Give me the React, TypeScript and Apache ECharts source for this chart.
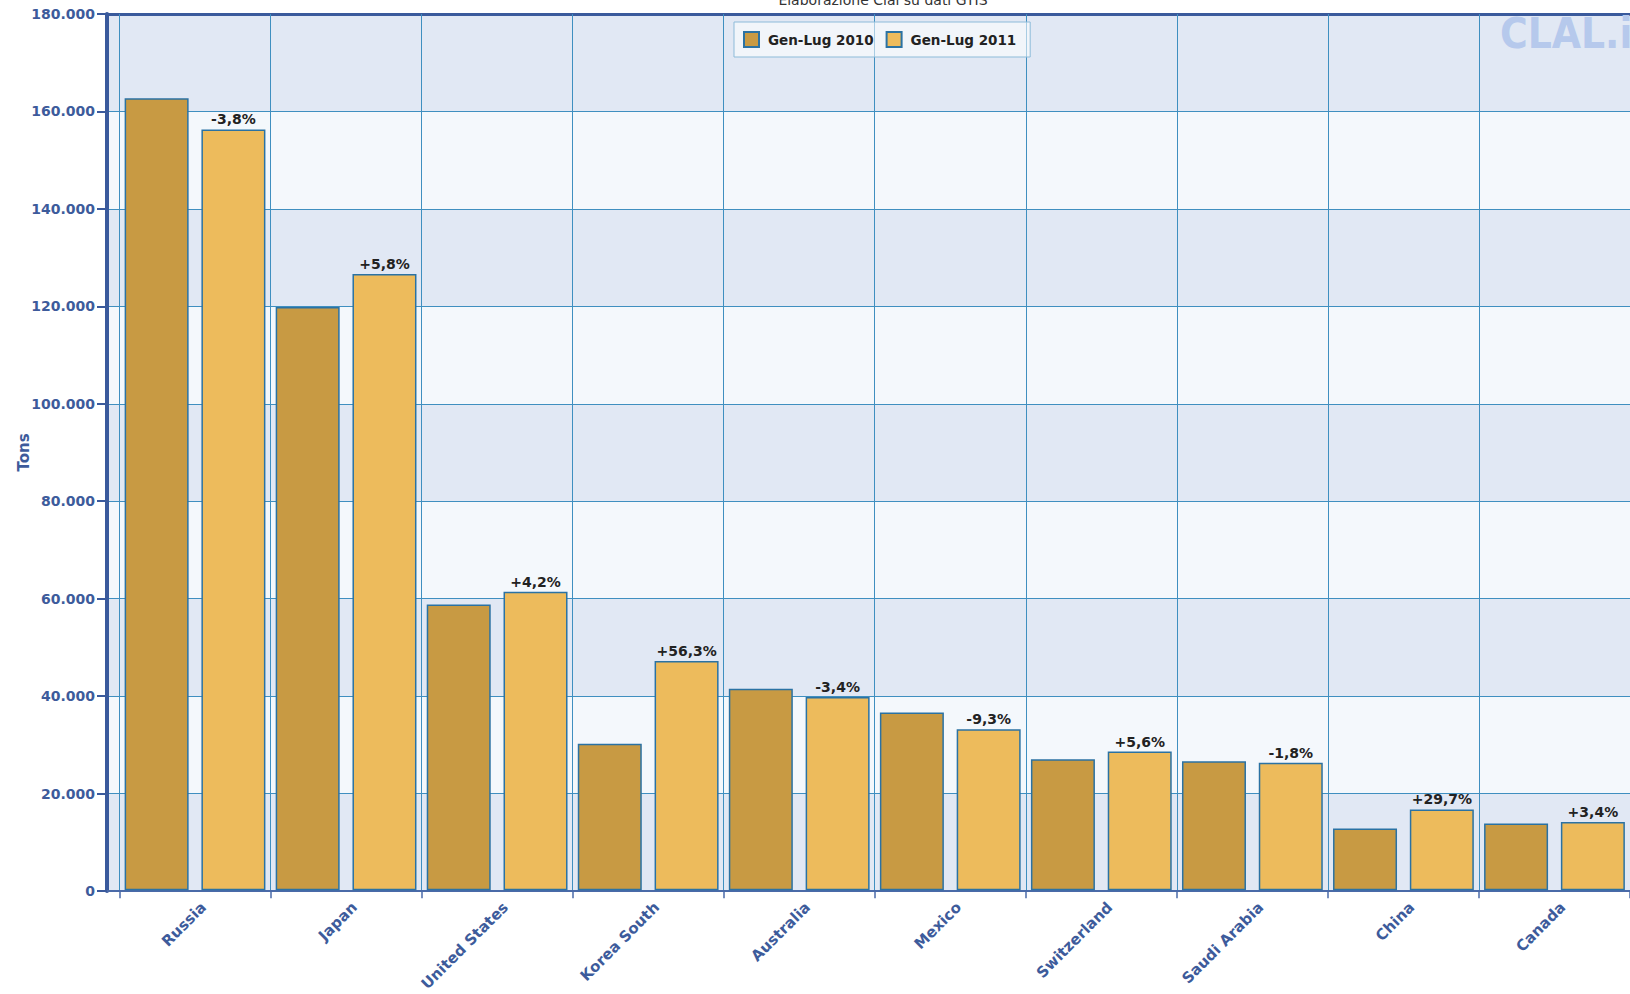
import React, { useEffect, useRef } from 'react';
import * as echarts from 'echarts';

const categories = ['Russia', 'Japan', 'United States', 'Korea South', 'Australia', 'Mexico', 'Switzerland', 'Saudi Arabia', 'China', 'Canada'];
const values2010 = [162700, 119800, 58700, 30100, 41400, 36500, 26900, 26500, 12700, 13700];
const values2011 = [156300, 126600, 61300, 47100, 39700, 33100, 28500, 26200, 16600, 14000];
const changeLabels = ['-3,8%', '+5,8%', '+4,2%', '+56,3%', '-3,4%', '-9,3%', '+5,6%', '-1,8%', '+29,7%', '+3,4%'];
const legendNames = ['Gen-Lug 2010', 'Gen-Lug 2011'];
const yMin = 0;
const yMax = 180000;
const yStep = 20000;
const titleText = 'Elaborazione Clal su dati GTIS';
const logoText = 'CLAL.it';
const yName = 'Tons';

const FONT = 'DejaVu Sans';
const AXIS_BLUE = '#3a5a9c';
const LABEL_BLUE = '#3d5b9b';
const GRID_BLUE = '#3f8fc0';

function fmt(v: number): string {
  if (v === 0) return '0';
  return String(Math.round(v / 1000)) + '.000';
}

export default function App() {
  const ref = useRef<HTMLDivElement>(null);
  useEffect(() => {
    if (!ref.current) return;
    const chart = echarts.init(ref.current, undefined, { renderer: 'svg' });
    const hiddenValueX = (position: string, width: number, color: string) => ({
      gridIndex: 0,
      type: 'value',
      min: 0,
      max: 1,
      position,
      axisLine: { show: true, onZero: false, lineStyle: { color, width } },
      axisTick: { show: false },
      axisLabel: { show: false },
      splitLine: { show: false },
    });
    chart.setOption({
      animation: false,
      backgroundColor: '#ffffff',
      grid: [
        { left: 107, right: 0, top: 14, bottom: 103 },
        { left: 119.5, right: 0, top: 14, bottom: 103 },
      ],
      legend: {
        data: legendNames,
        left: 734,
        top: 22,
        icon: 'rect',
        itemWidth: 15,
        itemHeight: 15,
        itemGap: 12,
        padding: [9, 14, 9, 9],
        borderColor: '#8dbbd9',
        borderWidth: 1,
        backgroundColor: 'rgba(255,255,255,0.55)',
        textStyle: { fontSize: 13.5, fontWeight: 'bold', color: '#222', fontFamily: FONT, padding: [0, 0, 0, 4] },
      },
      xAxis: [
        hiddenValueX('top', 3, AXIS_BLUE),
        hiddenValueX('bottom', 2, '#4a6aa8'),
        {
          gridIndex: 1,
          type: 'category',
          data: categories,
          position: 'bottom',
          z: 1,
          axisLine: { show: true, onZero: false, lineStyle: { color: '#4a6aa8', width: 2 } },
          axisTick: { show: true, interval: 0, length: 8, lineStyle: { color: '#4a6aa8', width: 1.5 } },
          splitLine: { show: true, interval: 0, lineStyle: { color: GRID_BLUE, width: 1 } },
          axisLabel: {
            interval: 0,
            rotate: 45,
            margin: 23,
            fontSize: 15,
            fontWeight: 'bold',
            color: LABEL_BLUE,
            fontFamily: FONT,
            padding: [0, -12, 0, 0],
          },
        },
      ],
      yAxis: [
        {
          gridIndex: 0,
          type: 'value',
          min: yMin,
          max: yMax,
          interval: yStep,
          z: 0,
          name: yName,
          nameLocation: 'middle',
          nameGap: 76,
          nameMoveOverlap: false,
          nameTextStyle: { fontSize: 15, fontWeight: 'bold', color: LABEL_BLUE, fontFamily: FONT },
          axisLine: { show: true, lineStyle: { color: AXIS_BLUE, width: 4 } },
          axisTick: { show: true, length: 10, lineStyle: { color: AXIS_BLUE, width: 2 } },
          axisLabel: { margin: 12, fontSize: 14, fontWeight: 'bold', color: LABEL_BLUE, fontFamily: FONT, formatter: fmt },
          splitLine: { show: true, lineStyle: { color: GRID_BLUE, width: 1 } },
          splitArea: { show: true, areaStyle: { color: ['#e1e8f4', '#f4f8fc'] } },
        },
        { gridIndex: 1, type: 'value', min: yMin, max: yMax, interval: yStep, show: false },
      ],
      series: [
        {
          name: legendNames[0],
          type: 'bar',
          xAxisIndex: 2,
          yAxisIndex: 1,
          data: values2010,
          barWidth: 64,
          barGap: '20%',
          itemStyle: { color: '#c89a43', borderColor: '#2b72a3', borderWidth: 1.5 },
        },
        {
          name: legendNames[1],
          type: 'bar',
          xAxisIndex: 2,
          yAxisIndex: 1,
          data: values2011,
          barWidth: 64,
          barGap: '20%',
          itemStyle: { color: '#edbb5c', borderColor: '#2b72a3', borderWidth: 1.5 },
          label: {
            show: true,
            position: 'top',
            distance: 3,
            formatter: (p: any) => changeLabels[p.dataIndex],
            fontSize: 14,
            fontWeight: 'bold',
            color: '#222',
            fontFamily: FONT,
          },
        },
      ],
      graphic: [
        {
          type: 'text',
          x: 883,
          y: 7,
          z: 100,
          style: { text: titleText, align: 'center', verticalAlign: 'bottom', fontSize: 14, fill: '#333', fontFamily: FONT },
        },
        {
          type: 'text',
          x: 1500,
          y: 12,
          z: 100,
          style: { text: logoText, fontSize: 42, fontWeight: 'bold', fontFamily: 'DejaVu Sans Condensed', fill: '#b6c9ec' },
        },
      ],
    });
    return () => chart.dispose();
  }, []);
  return <div ref={ref} style={{ position: 'fixed', left: 0, top: 0, width: 1630, height: 994 }} />;
}
